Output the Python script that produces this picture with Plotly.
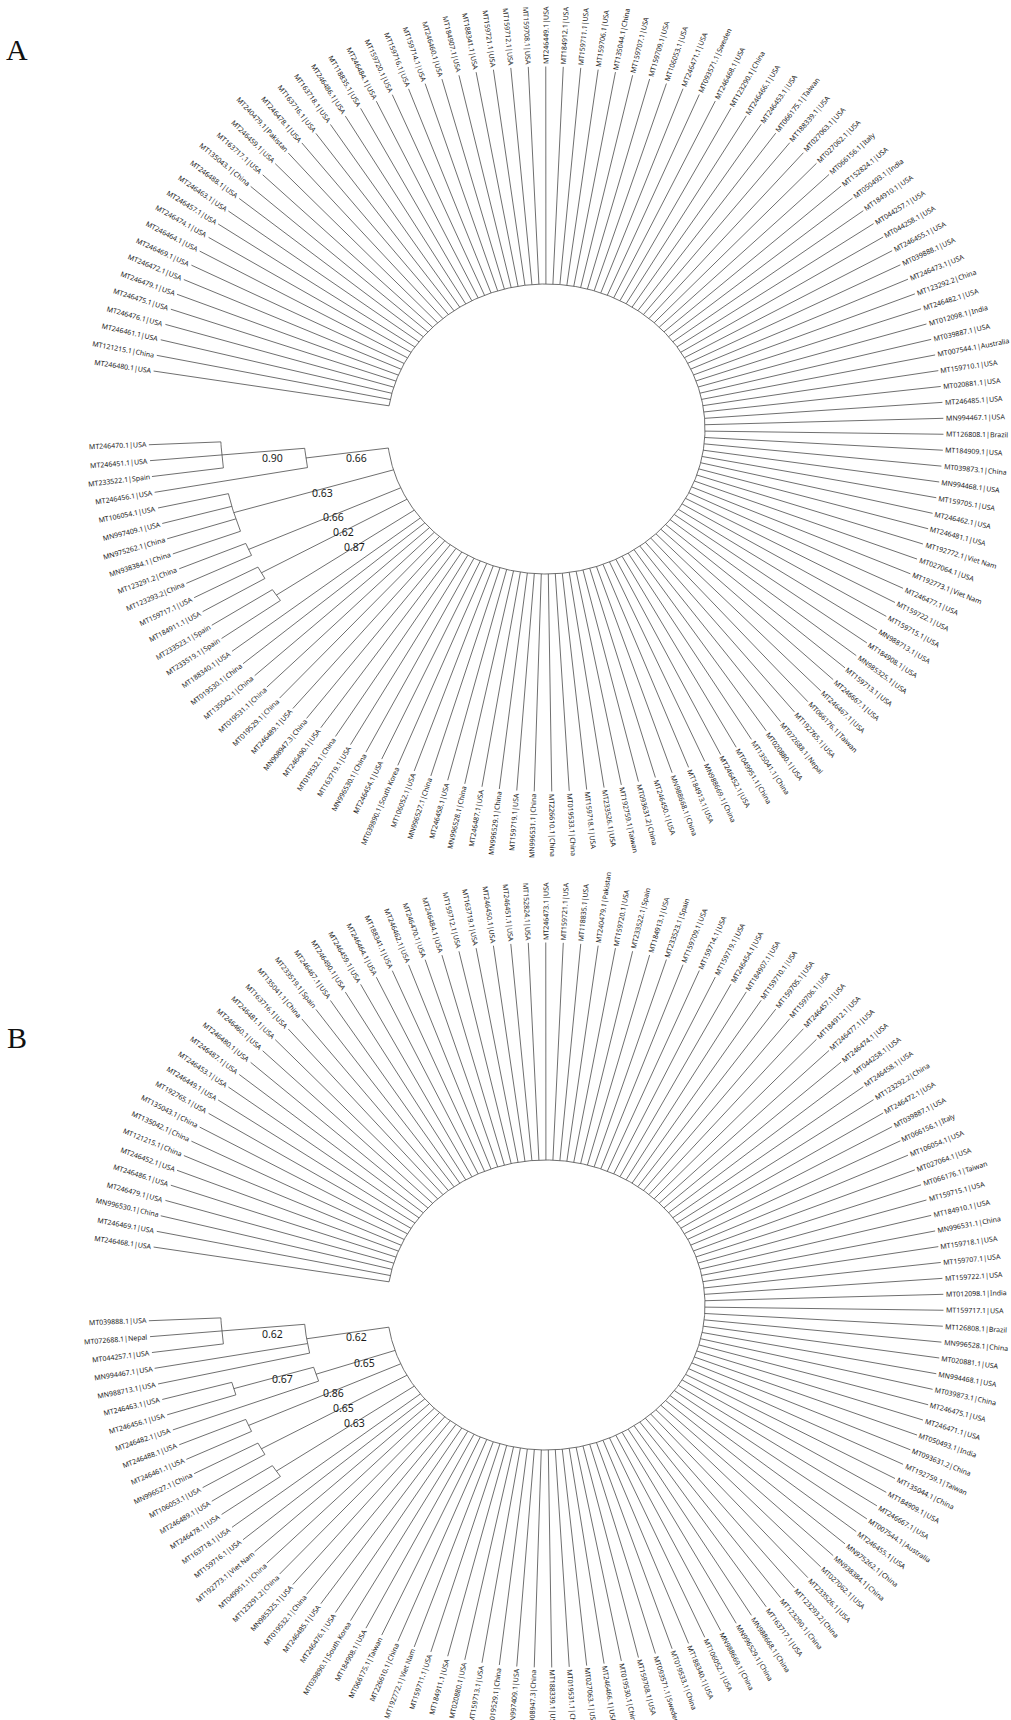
import math
import plotly.graph_objects as go

# ---------------- data ----------------
leaves_A = [
    "MT246480.1|USA", "MT121215.1|China", "MT246461.1|USA", "MT246476.1|USA", "MT246475.1|USA",
    "MT246479.1|USA", "MT246472.1|USA", "MT246469.1|USA", "MT246464.1|USA", "MT246474.1|USA",
    "MT246457.1|USA", "MT246463.1|USA", "MT246488.1|USA", "MT135043.1|China", "MT163717.1|USA",
    "MT246459.1|USA", "MT240479.1|Pakistan", "MT246478.1|USA", "MT163716.1|USA", "MT163718.1|USA",
    "MT246486.1|USA", "MT118835.1|USA", "MT246484.1|USA", "MT159720.1|USA", "MT159716.1|USA",
    "MT159714.1|USA", "MT246460.1|USA", "MT184907.1|USA", "MT188341.1|USA", "MT159721.1|USA",
    "MT159712.1|USA", "MT159708.1|USA", "MT246449.1|USA", "MT184912.1|USA", "MT159711.1|USA",
    "MT159706.1|USA", "MT135044.1|China", "MT159707.1|USA", "MT159709.1|USA", "MT106053.1|USA",
    "MT246471.1|USA", "MT093571.1|Sweden", "MT246468.1|USA", "MT123290.1|China", "MT246466.1|USA",
    "MT246453.1|USA", "MT066175.1|Taiwan", "MT188339.1|USA", "MT027063.1|USA", "MT027062.1|USA",
    "MT066156.1|Italy", "MT152824.1|USA", "MT050493.1|India", "MT184910.1|USA", "MT044257.1|USA",
    "MT044258.1|USA", "MT246455.1|USA", "MT039888.1|USA", "MT246473.1|USA", "MT123292.2|China",
    "MT246482.1|USA", "MT012098.1|India", "MT039887.1|USA", "MT007544.1|Australia", "MT159710.1|USA",
    "MT020881.1|USA", "MT246485.1|USA", "MN994467.1|USA", "MT126808.1|Brazil", "MT184909.1|USA",
    "MT039873.1|China", "MN994468.1|USA", "MT159705.1|USA", "MT246462.1|USA", "MT246481.1|USA",
    "MT192772.1|Viet Nam", "MT027064.1|USA", "MT192773.1|Viet Nam", "MT246477.1|USA", "MT159722.1|USA",
    "MT159715.1|USA", "MN988713.1|USA", "MT184908.1|USA", "MN985325.1|USA", "MT159713.1|USA",
    "MT246667.1|USA", "MT246467.1|USA", "MT066176.1|Taiwan", "MT192765.1|USA", "MT072688.1|Nepal",
    "MT020880.1|USA", "MT135041.1|China", "MT049951.1|China", "MT246452.1|USA", "MN988669.1|China",
    "MT184913.1|USA", "MN988668.1|China", "MT246450.1|USA", "MT093631.2|China", "MT192759.1|Taiwan",
    "MT233526.1|USA", "MT159718.1|USA", "MT019533.1|China", "MT226610.1|China", "MN996531.1|China",
    "MT159719.1|USA", "MN996529.1|China", "MT246487.1|USA", "MN996528.1|China", "MT246458.1|USA",
    "MN996527.1|China", "MT106052.1|USA", "MT039890.1|South Korea", "MT246454.1|USA", "MN996530.1|China",
    "MT163719.1|USA", "MT019532.1|China", "MT246490.1|USA", "MN908947.3|China", "MT246489.1|USA",
    "MT019529.1|China", "MT019531.1|China", "MT135042.1|China", "MT019530.1|China", "MT188340.1|USA",
    "MT233519.1|Spain", "MT233523.1|Spain", "MT184911.1|USA", "MT159717.1|USA", "MT123293.2|China",
    "MT123291.2|China", "MN938384.1|China", "MN975262.1|China", "MN997409.1|USA", "MT106054.1|USA",
    "MT246456.1|USA", "MT233522.1|Spain", "MT246451.1|USA", "MT246470.1|USA",
]

clades_A = [  # (node id, children, support) - children listed before parents
    ("a1", ["MT233522.1|Spain", "MT246451.1|USA", "MT246470.1|USA"], "0.90"),
    ("a2", ["MT246456.1|USA", "a1"], "0.66"),
    ("a3", ["MN938384.1|China", "MN975262.1|China", "MN997409.1|USA", "MT106054.1|USA"], "0.63"),
    ("a4", ["MT123293.2|China", "MT123291.2|China"], "0.66"),
    ("a5", ["MT184911.1|USA", "MT159717.1|USA"], "0.62"),
    ("a6", ["MT233519.1|Spain", "MT233523.1|Spain"], "0.87"),
]

leaves_B = [
    "MT246468.1|USA", "MT246469.1|USA", "MN996530.1|China", "MT246479.1|USA", "MT246486.1|USA",
    "MT246452.1|USA", "MT121215.1|China", "MT135042.1|China", "MT135043.1|China", "MT192765.1|USA",
    "MT246449.1|USA", "MT246453.1|USA", "MT246487.1|USA", "MT246480.1|USA", "MT246460.1|USA",
    "MT246481.1|USA", "MT163716.1|USA", "MT135041.1|China", "MT233519.1|Spain", "MT246467.1|USA",
    "MT246490.1|USA", "MT246459.1|USA", "MT246464.1|USA", "MT188341.1|USA", "MT246462.1|USA",
    "MT246470.1|USA", "MT246484.1|USA", "MT159712.1|USA", "MT163719.1|USA", "MT246450.1|USA",
    "MT246451.1|USA", "MT152824.1|USA", "MT246473.1|USA", "MT159721.1|USA", "MT118835.1|USA",
    "MT240479.1|Pakistan", "MT159720.1|USA", "MT233522.1|Spain", "MT184913.1|USA", "MT233523.1|Spain",
    "MT159709.1|USA", "MT159714.1|USA", "MT159719.1|USA", "MT246454.1|USA", "MT184907.1|USA",
    "MT159710.1|USA", "MT159705.1|USA", "MT159706.1|USA", "MT246457.1|USA", "MT184912.1|USA",
    "MT246477.1|USA", "MT246474.1|USA", "MT044258.1|USA", "MT246458.1|USA", "MT123292.2|China",
    "MT246472.1|USA", "MT039887.1|USA", "MT066156.1|Italy", "MT106054.1|USA", "MT027064.1|USA",
    "MT066176.1|Taiwan", "MT159715.1|USA", "MT184910.1|USA", "MN996531.1|China", "MT159718.1|USA",
    "MT159707.1|USA", "MT159722.1|USA", "MT012098.1|India", "MT159717.1|USA", "MT126808.1|Brazil",
    "MN996528.1|China", "MT020881.1|USA", "MN994468.1|USA", "MT039873.1|China", "MT246475.1|USA",
    "MT246471.1|USA", "MT050493.1|India", "MT093631.2|China", "MT192759.1|Taiwan", "MT135044.1|China",
    "MT184909.1|USA", "MT246667.1|USA", "MT007544.1|Australia", "MT246455.1|USA", "MN975262.1|China",
    "MN938384.1|China", "MT027062.1|USA", "MT233526.1|USA", "MT123293.2|China", "MT123290.1|China",
    "MT163717.1|USA", "MN988668.1|China", "MN996529.1|China", "MN988669.1|China", "MT106052.1|USA",
    "MT188340.1|USA", "MT019533.1|China", "MT093571.1|Sweden", "MT159708.1|USA", "MT019530.1|China",
    "MT246466.1|USA", "MT027063.1|USA", "MT019531.1|China", "MT188339.1|USA", "MN908947.3|China",
    "MN997409.1|USA", "MT019529.1|China", "MT159713.1|USA", "MT020880.1|USA", "MT184911.1|USA",
    "MT159711.1|USA", "MT192772.1|Viet Nam", "MT226610.1|China", "MT066175.1|Taiwan", "MT184908.1|USA",
    "MT039890.1|South Korea", "MT246476.1|USA", "MT246485.1|USA", "MT019532.1|China", "MN985325.1|USA",
    "MT123291.2|China", "MT049951.1|China", "MT192773.1|Viet Nam", "MT159716.1|USA", "MT163718.1|USA",
    "MT246478.1|USA", "MT246489.1|USA", "MT106053.1|USA", "MN996527.1|China", "MT246461.1|USA",
    "MT246488.1|USA", "MT246482.1|USA", "MT246456.1|USA", "MT246463.1|USA", "MN988713.1|USA",
    "MN994467.1|USA", "MT044257.1|USA", "MT072688.1|Nepal", "MT039888.1|USA",
]

clades_B = [
    ("b1", ["MT044257.1|USA", "MT072688.1|Nepal", "MT039888.1|USA"], "0.62"),
    ("b2", ["MN988713.1|USA", "MN994467.1|USA", "b1"], "0.62"),
    ("b3", ["MT246456.1|USA", "MT246463.1|USA"], "0.67"),
    ("b4", ["MT246482.1|USA", "b3"], "0.65"),
    ("b5", ["MT246461.1|USA", "MT246488.1|USA"], "0.86"),
    ("b6", ["MT106053.1|USA", "MN996527.1|China"], "0.65"),
    ("b7", ["MT246478.1|USA", "MT246489.1|USA"], "0.63"),
]

panel_letters = ["A", "B"]

# ---------------- layout constants ----------------
W, H = 1011, 1720
START_ANGLE = 189.2      # screen angle (deg, clockwise from +x) of first leaf
STEP = 2.524             # angular spacing between leaves
R_ROOT, R_TOP, R_TIP = 1.0, 2.57, 2.5
SX, SY = 159.0, 145.0
TREES = [
    dict(leaves=leaves_A, clades=clades_A, cx=546.0, cy=429.0, letter_xy=(17, 49)),
    dict(leaves=leaves_B, clades=clades_B, cx=546.0, cy=1305.0, letter_xy=(17, 1037)),
]
LINE_COLOR = "#4a4a4a"
LABEL_FONT = "Noto Sans"
LABEL_SIZE = 7.0
SUPPORT_SIZE = 10.5

CW = {".": 0.268, "|": 0.551, "M": 0.907, "N": 0.765, "T": 0.556, "U": 0.754, "S": 0.548,
      "A": 0.639, "C": 0.632, "I": 0.301, "B": 0.64, "P": 0.603, "V": 0.602, "K": 0.622,
      "a": 0.561, "b": 0.613, "c": 0.48, "d": 0.613, "e": 0.564, "h": 0.613, "i": 0.258,
      "k": 0.529, "l": 0.258, "m": 0.925, "n": 0.613, "o": 0.604, "p": 0.613, "r": 0.408,
      "s": 0.479, "t": 0.356, "u": 0.613, "w": 0.8, "y": 0.5, "z": 0.47, " ": 0.26}


def text_width(s, size):
    return sum(CW.get(ch, 0.572 if ch.isdigit() else 0.56) for ch in s) * size


def node_radius(h):
    return R_ROOT + (R_TOP - R_ROOT) * (1 - h / 3.0)


fig = go.Figure()
annotations = []

for tree in TREES:
    leaves, clades, cx, cy = tree["leaves"], tree["clades"], tree["cx"], tree["cy"]

    def pt(r, a):
        t = math.radians(a)
        return cx + r * SX * math.cos(t), cy + r * SY * math.sin(t)

    ang = {n: START_ANGLE + i * STEP for i, n in enumerate(leaves)}
    height = {n: 0 for n in leaves}
    parent = {}
    kids_of = {}
    for cid, kids, sup in clades:
        kids_of[cid] = kids
        for k in kids:
            parent[k] = cid
        a = [ang[k] for k in kids]
        ang[cid] = (min(a) + max(a)) / 2.0
        height[cid] = 1 + max(height[k] for k in kids)

    def radius(n):
        if n == "root":
            return R_ROOT
        return R_TIP if height[n] == 0 else node_radius(height[n])

    xs, ys = [], []
    all_nodes = list(leaves) + [c[0] for c in clades]
    root_kids = [n for n in all_nodes if n not in parent]
    # radial branches
    for n in all_nodes:
        p = parent.get(n, "root")
        x0, y0 = pt(radius(p), ang[n])
        x1, y1 = pt(radius(n), ang[n])
        xs += [x0, x1, None]
        ys += [y0, y1, None]
    # arcs
    arc_groups = [("root", root_kids)] + [(cid, kids_of[cid]) for cid, _, _ in clades]
    for nid, kids in arc_groups:
        a = [ang[k] for k in kids]
        a0, a1 = min(a), max(a)
        r = radius(nid)
        nseg = max(2, int((a1 - a0) / 0.5))
        for j in range(nseg + 1):
            x, y = pt(r, a0 + (a1 - a0) * j / nseg)
            xs.append(x)
            ys.append(y)
        xs.append(None)
        ys.append(None)

    fig.add_trace(go.Scatter(x=xs, y=ys, mode="lines", hoverinfo="skip",
                             line=dict(color=LINE_COLOR, width=0.8), showlegend=False))

    # leaf labels
    for n in leaves:
        a = ang[n]
        t = math.radians(a)
        ux, uy = SX * math.cos(t), SY * math.sin(t)
        nrm = math.hypot(ux, uy)
        ux, uy = ux / nrm, uy / nrm
        tx, ty = pt(R_TIP, a)
        w = text_width(n, LABEL_SIZE)
        gap = 2.5
        mx = tx + ux * (gap + w / 2.0)
        my = ty + uy * (gap + w / 2.0)
        alpha = math.degrees(math.atan2(uy, ux))
        rot = alpha if math.cos(t) > -0.02 else alpha - 180.0
        while rot > 180:
            rot -= 360
        while rot < -180:
            rot += 360
        annotations.append(dict(x=mx, y=my, xref="x", yref="y", text=n, showarrow=False,
                                textangle=rot, xanchor="center", yanchor="middle",
                                font=dict(family=LABEL_FONT, size=LABEL_SIZE, color="#1a1a1a"),
                                borderpad=0))

    # support values
    for cid, kids, sup in clades:
        a = ang[cid]
        a_norm = a % 360.0
        p = parent.get(cid, "root")
        rm = (radius(cid) + radius(p)) / 2.0
        x, y = pt(rm, a)
        annotations.append(dict(x=x, y=y, xref="x", yref="y", text=sup, showarrow=False,
                                xanchor="center", yanchor="middle", xshift=9,
                                yshift=-0.4 * (a_norm - 160.0),
                                font=dict(family=LABEL_FONT, size=SUPPORT_SIZE, color="#1a1a1a")))

for letter, tree in zip(panel_letters, TREES):
    lx, ly = tree["letter_xy"]
    annotations.append(dict(x=lx, y=ly, xref="x", yref="y", text=letter, showarrow=False,
                            xanchor="center", yanchor="middle",
                            font=dict(family="Liberation Serif", size=30, color="#111")))

fig.update_layout(
    width=W, height=H, margin=dict(l=0, r=0, t=0, b=0),
    paper_bgcolor="white", plot_bgcolor="white",
    xaxis=dict(range=[0, W], visible=False, fixedrange=True),
    yaxis=dict(range=[H, 0], visible=False, fixedrange=True),
    annotations=annotations, showlegend=False,
)

fig.write_html("out.html", config={"displayModeBar": False},
               post_script="document.body.style.margin='0';document.body.style.overflow='hidden';")
